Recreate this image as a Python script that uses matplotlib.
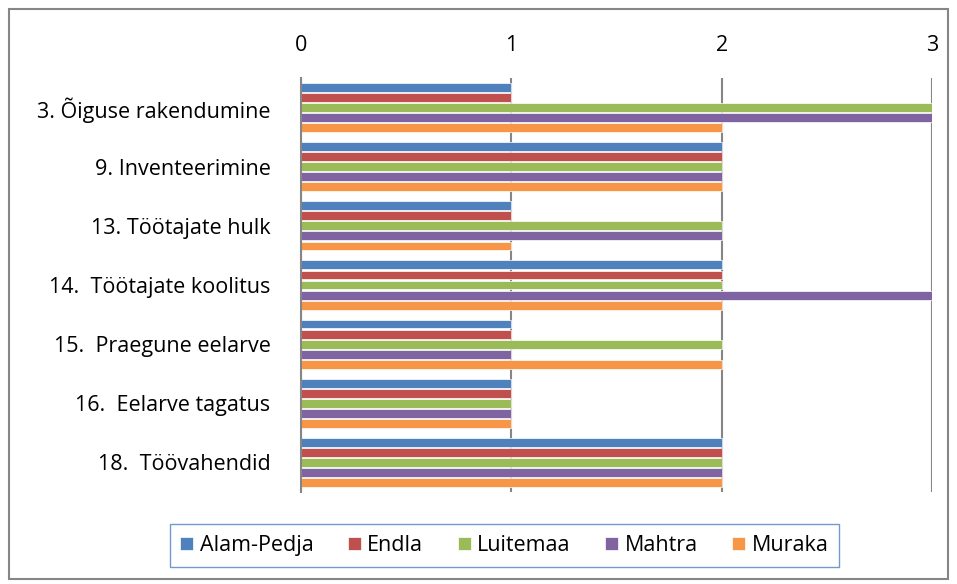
import numpy as np
import matplotlib.pyplot as plt
from matplotlib.patches import Rectangle

# Categories (top to bottom) and series values
categories = ["3. Õiguse rakendumine", "9. Inventeerimine", "13. Töötajate hulk",
              "14.  Töötajate koolitus", "15.  Praegune eelarve", "16.  Eelarve tagatus",
              "18.  Töövahendid"]
series_names = ["Alam-Pedja", "Endla", "Luitemaa", "Mahtra", "Muraka"]
alam_pedja = [1, 2, 1, 2, 1, 1, 2]
endla = [1, 2, 1, 2, 1, 1, 2]
luitemaa = [3, 2, 2, 2, 2, 1, 2]
mahtra = [3, 2, 2, 3, 1, 1, 2]
muraka = [2, 2, 1, 2, 2, 1, 2]
x_ticks = [0, 1, 2, 3]

colors = ["#4F81BD", "#C0504D", "#9BBB59", "#8064A2", "#F79646"]
values = [alam_pedja, endla, luitemaa, mahtra, muraka]

plt.rcParams['font.family'] = ['Open Sans', 'DejaVu Sans']

fig = plt.figure(figsize=(9.57, 5.84), dpi=100)
ax = fig.add_axes([0.3145, 0.1575, 0.6594, 0.7089])

y = np.arange(len(categories))
slot = 0.17
bar_h = 0.15
for i, (name, vals) in enumerate(zip(series_names, values)):
    offset = (i - 2) * slot
    ax.barh(y + offset, vals, height=bar_h, color=colors[i], label=name,
            edgecolor='white', linewidth=0.5, zorder=2)

ax.set_xlim(0, 3)
ax.set_ylim(len(categories) - 0.5, -0.5)
ax.set_xticks(x_ticks)
ax.xaxis.tick_top()
ax.tick_params(axis='x', length=0, pad=16, labelsize=15.5)
ax.tick_params(axis='y', length=0, pad=22, labelsize=15.5)
ax.set_yticks(y)
ax.set_yticklabels(categories)
ax.grid(axis='x', color='#868686', linewidth=1.5, zorder=3)
for s in ['top', 'right', 'bottom']:
    ax.spines[s].set_visible(False)
ax.spines['left'].set_color('#868686')
ax.spines['left'].set_linewidth(1.5)
ax.spines['left'].set_zorder(3)

leg = fig.legend(loc='center', bbox_to_anchor=(0.527, 0.066), ncol=5, fontsize=15.5,
                 frameon=True, fancybox=False, handlelength=0.6, handleheight=0.6,
                 handletextpad=0.3, columnspacing=1.6, borderpad=0.5)
leg.get_frame().set_edgecolor('#4F81BD')
leg.get_frame().set_linewidth(1.0)

# outer chart border
fig.patches.append(Rectangle((0.009, 0.008), 0.982, 0.976, transform=fig.transFigure,
                             fill=False, edgecolor='#868686', linewidth=1.5))

fig.savefig("out.png", dpi=100)
